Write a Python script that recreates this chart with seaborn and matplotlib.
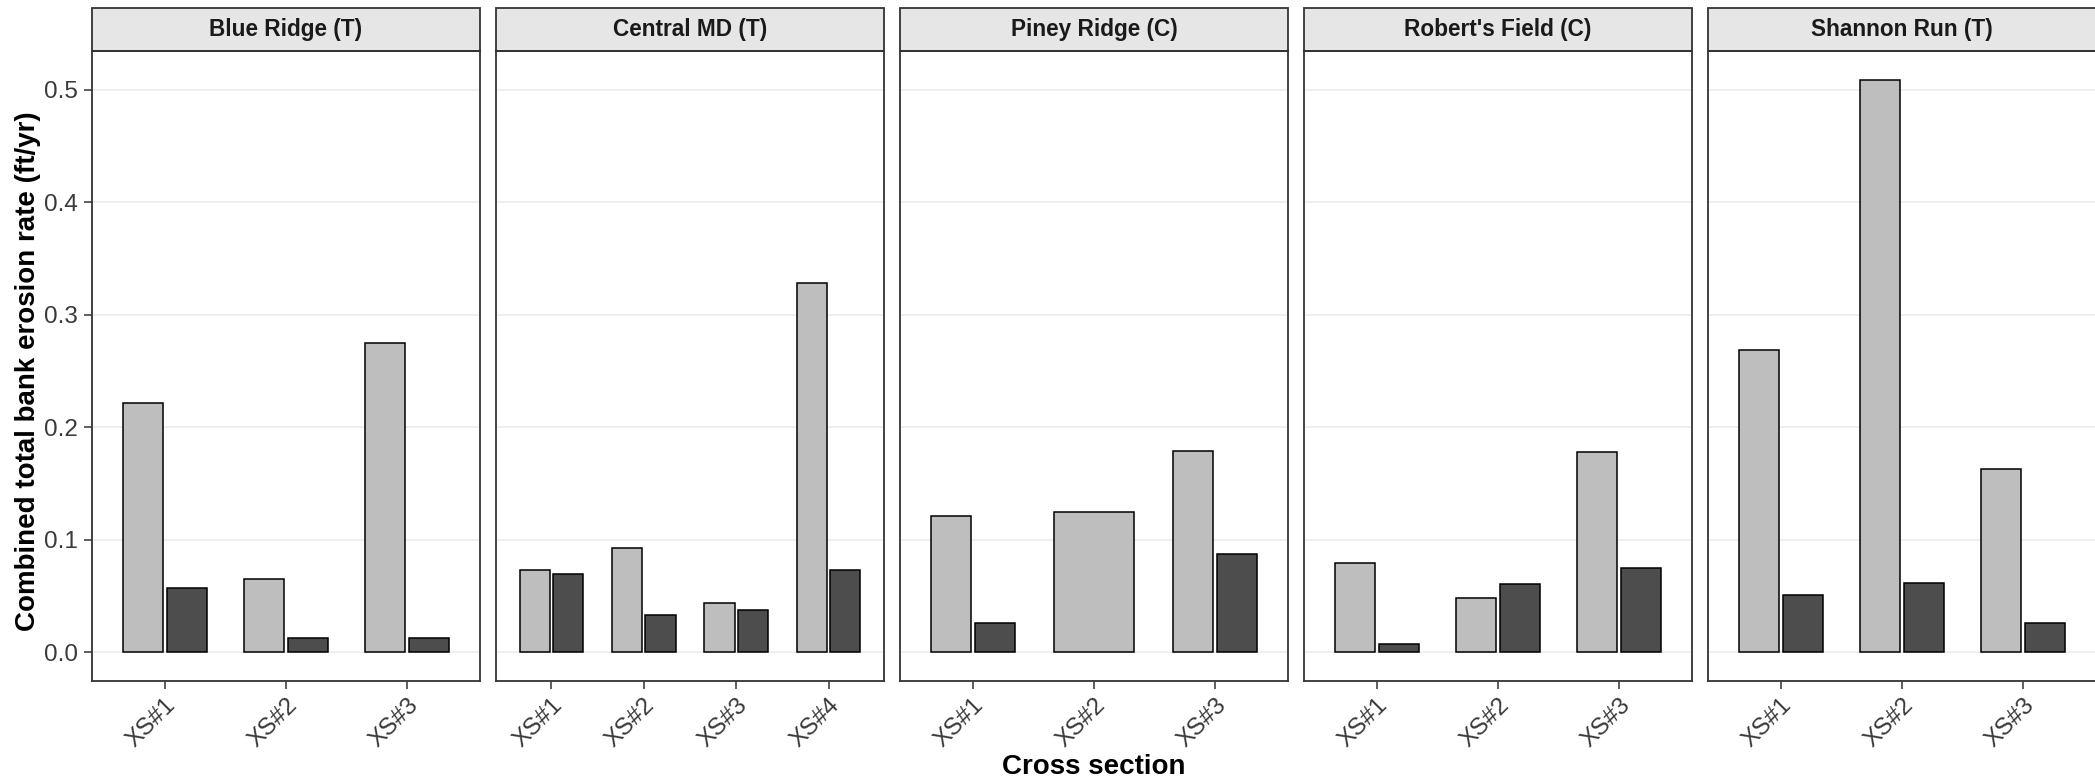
import numpy as np
import matplotlib.pyplot as plt
import pandas as pd
import seaborn as sns
from matplotlib.patches import Rectangle

# values (ft/yr)
sites = ["Blue Ridge (T)", "Central MD (T)", "Piney Ridge (C)", "Robert's Field (C)", "Shannon Run (T)"]
sections = [["XS#1", "XS#2", "XS#3"],
            ["XS#1", "XS#2", "XS#3", "XS#4"],
            ["XS#1", "XS#2", "XS#3"],
            ["XS#1", "XS#2", "XS#3"],
            ["XS#1", "XS#2", "XS#3"]]
rate_light = [[0.222, 0.065, 0.275],
              [0.073, 0.093, 0.044, 0.328],
              [0.121, 0.125, 0.179],
              [0.079, 0.048, 0.178],
              [0.269, 0.509, 0.163]]
rate_dark = [[0.057, 0.013, 0.013],
             [0.070, 0.033, 0.038, 0.073],
             [0.026, None, 0.087],
             [0.007, 0.061, 0.075],
             [0.051, 0.062, 0.026]]
series_names = ["Series A", "Series B"]
yticks = [0.0, 0.1, 0.2, 0.3, 0.4, 0.5]

rows = []
for site, secs, la, da in zip(sites, sections, rate_light, rate_dark):
    for s, a, b in zip(secs, la, da):
        n = (a is not None) + (b is not None)
        if a is not None:
            rows.append((site, s, series_names[0], a, n))
        if b is not None:
            rows.append((site, s, series_names[1], b, n))
df = pd.DataFrame(rows, columns=["site", "section", "series", "rate", "nbars"])

light, dark = "#BEBEBE", "#4D4D4D"
frame = "#333333"

plt.rcParams['font.family'] = ['Liberation Sans', 'DejaVu Sans']
W, H = 2095, 782
fig = plt.figure(figsize=(W / 100, H / 100), dpi=100)

ymax = max(v for l in rate_light for v in l)
ylim = (-0.05 * ymax, 1.05 * ymax)

for i, site in enumerate(sites):
    left = 92 + i * 404
    ax = fig.add_axes([left / W, (H - 681) / H, 388 / W, 630 / H])
    sub = df[df.site == site]
    order = sections[i]
    both = sub[sub.nbars == 2]
    single = sub[sub.nbars == 1]
    if len(both):
        sns.barplot(data=both, x="section", y="rate", hue="series", order=order,
                    hue_order=series_names, palette=[light, dark], width=0.727, gap=0.1,
                    edgecolor="black", linewidth=1.1, errorbar=None, legend=False, ax=ax)
    if len(single):
        sns.barplot(data=single, x="section", y="rate", order=order, color=light,
                    width=0.655, edgecolor="black", linewidth=1.1, errorbar=None, ax=ax)
    for p in ax.patches:
        if p.get_facecolor()[0] > 0.5:
            p.set_facecolor(light)
    ax.set_xlim(-0.6, len(order) - 0.4)
    ax.set_ylim(*ylim)
    ax.set_yticks(yticks)
    ax.set_axisbelow(True)
    ax.yaxis.grid(True, color="#EBEBEB", linewidth=1.1)
    ax.xaxis.grid(False)
    ax.set_xlabel("")
    ax.set_ylabel("")
    for sp in ax.spines.values():
        sp.set_color(frame)
        sp.set_linewidth(1.3)
    ax.tick_params(axis="both", length=5.8, width=1.1, color=frame,
                   labelsize=17.5, labelcolor="#3A3A3A", pad=4.3)
    ax.tick_params(axis="x", pad=3.5)
    for lab in ax.get_xticklabels():
        lab.set_rotation(45)
        lab.set_ha("right")
        lab.set_va("top")
        lab.set_rotation_mode("anchor")
    if i > 0:
        ax.tick_params(axis="y", left=False, labelleft=False)
    # facet strip
    sh = 43 / 630
    ax.add_patch(Rectangle((0, 1), 1, sh, transform=ax.transAxes, clip_on=False,
                           facecolor="#E6E6E6", edgecolor=frame, linewidth=1.3))
    ax.text(0.5, 1 + sh / 2, site, transform=ax.transAxes, ha="center", va="center",
            fontsize=16.3, fontweight="bold", color="#1A1A1A")

fig.text(28 / W, 1 - 371 / H, "Combined total bank erosion rate (ft/yr)", rotation=90,
         ha="center", va="center", fontsize=20, fontweight="bold")
fig.text(1094 / W, 1 - 767 / H, "Cross section", ha="center", va="center",
         fontsize=20, fontweight="bold")

plt.savefig("out.png", dpi=100)
